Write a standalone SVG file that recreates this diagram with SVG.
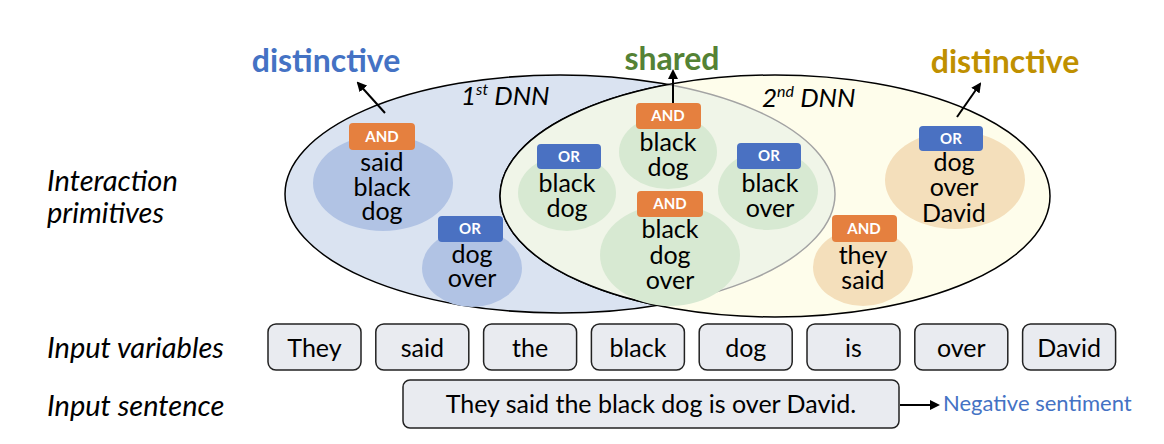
<svg xmlns="http://www.w3.org/2000/svg" width="1164" height="444" viewBox="0 0 1164 444">
<style>
text{font-family:Lato,"Open Sans","Liberation Sans",sans-serif;}
.lbl{font-size:29px;font-style:italic;fill:#000;}
.t{font-size:25px;fill:#000;text-anchor:middle;}
.tag{font-size:15px;font-weight:bold;fill:#fff;text-anchor:middle;}
.and{fill:#e5803f;}
.or{fill:#4a71c2;}
.eb{fill:#b1c3e4;}
.eg{fill:#d7e9d2;}
.et{fill:#f4dfbb;}
.box{fill:#e9ebf0;stroke:#222;stroke-width:1.5;}
.hd{font-size:32px;font-weight:bold;text-anchor:middle;}
.dnn{font-size:26px;font-style:italic;fill:#000;}
.arr{stroke:#000;stroke-width:2;fill:none;}
</style>
<defs>
<marker id="ah" markerWidth="10" markerHeight="10" refX="8" refY="5" orient="auto" markerUnits="userSpaceOnUse">
<path d="M0,0 L10,5 L0,10 Z" fill="#000"/>
</marker>
<clipPath id="cy"><ellipse cx="775" cy="196" rx="275" ry="121"/></clipPath>
<clipPath id="cb"><ellipse cx="560" cy="194" rx="276" ry="120"/></clipPath>
</defs>
<rect width="1164" height="444" fill="#fff"/>

<g id="sets">
<ellipse cx="560" cy="194" rx="275" ry="119" fill="#dae3f1" stroke="#000" stroke-width="1.5"/>
<ellipse cx="775" cy="196" rx="275" ry="121" fill="#fefdeb" stroke="#000" stroke-width="1.5"/>
<ellipse cx="560" cy="194" rx="275" ry="119" fill="#f0f5e8" stroke="#a3a3a3" stroke-width="1.5" clip-path="url(#cy)"/>
<ellipse cx="775" cy="196" rx="275" ry="121" fill="none" stroke="#000" stroke-width="1.5" clip-path="url(#cb)"/>
</g>

<g id="dnn-labels">
<text class="dnn" x="461" y="105">1<tspan font-size="16" dy="-10">st</tspan><tspan dy="10"> DNN</tspan></text>
<text class="dnn" x="762" y="107">2<tspan font-size="16" dy="-10">nd</tspan><tspan dy="10"> DNN</tspan></text>
</g>

<g id="n1">
<ellipse class="eb" cx="383" cy="183" rx="70" ry="48"/>
<rect class="and" x="349" y="123" width="66" height="27" rx="4"/>
<text class="tag" x="382" y="142">AND</text>
<text class="t" x="382" y="171">said</text>
<text class="t" x="382" y="196">black</text>
<text class="t" x="382" y="220">dog</text>
</g>
<g id="n2">
<ellipse class="eb" cx="472" cy="268" rx="50" ry="39"/>
<rect class="or" x="438" y="216" width="65" height="26" rx="4"/>
<text class="tag" x="470" y="234">OR</text>
<text class="t" x="472" y="263">dog</text>
<text class="t" x="472" y="287">over</text>
</g>
<g id="n3">
<ellipse class="eg" cx="567" cy="193" rx="49" ry="38"/>
<rect class="or" x="537" y="144" width="64" height="25" rx="4"/>
<text class="tag" x="569" y="162">OR</text>
<text class="t" x="567" y="192">black</text>
<text class="t" x="567" y="217">dog</text>
</g>
<g id="n4">
<ellipse class="eg" cx="668" cy="152" rx="49" ry="37"/>
<rect class="and" x="636" y="103" width="65" height="26" rx="4"/>
<text class="tag" x="668" y="121">AND</text>
<text class="t" x="668" y="151">black</text>
<text class="t" x="668" y="176">dog</text>
</g>
<g id="n5">
<ellipse class="eg" cx="670" cy="255" rx="70" ry="51"/>
<rect class="and" x="637" y="191" width="66" height="26" rx="4"/>
<text class="tag" x="670" y="209">AND</text>
<text class="t" x="670" y="238">black</text>
<text class="t" x="670" y="264">dog</text>
<text class="t" x="670" y="289">over</text>
</g>
<g id="n6">
<ellipse class="eg" cx="768" cy="190" rx="50" ry="40"/>
<rect class="or" x="737" y="143" width="64" height="26" rx="4"/>
<text class="tag" x="769" y="161">OR</text>
<text class="t" x="770" y="192">black</text>
<text class="t" x="770" y="217">over</text>
</g>
<g id="n7">
<ellipse class="et" cx="863" cy="267" rx="50" ry="39"/>
<rect class="and" x="832" y="215" width="65" height="27" rx="4"/>
<text class="tag" x="864" y="234">AND</text>
<text class="t" x="863" y="264">they</text>
<text class="t" x="863" y="289">said</text>
</g>
<g id="n8">
<ellipse class="et" cx="955" cy="180" rx="70" ry="49"/>
<rect class="or" x="919" y="126" width="64" height="25" rx="4"/>
<text class="tag" x="951" y="144">OR</text>
<text class="t" x="954" y="171">dog</text>
<text class="t" x="954" y="196">over</text>
<text class="t" x="954" y="222">David</text>
</g>

<g id="headers">
<text class="hd" x="326" y="72" fill="#4472c4">distinctive</text>
<text class="hd" x="672" y="70" fill="#548235">shared</text>
<text class="hd" x="1005" y="73" fill="#bf9000">distinctive</text>
</g>

<g id="row-labels">
<text class="lbl" x="47" y="191">Interaction</text>
<text class="lbl" x="47" y="223">primitives</text>
<text class="lbl" x="47" y="358">Input variables</text>
<text class="lbl" x="47" y="416">Input sentence</text>
</g>

<g id="variables">
<g id="v1"><rect class="box" x="268" y="324" width="93" height="46" rx="8"/><text class="t" x="314.5" y="357">They</text></g>
<g id="v2"><rect class="box" x="375.8" y="324" width="93" height="46" rx="8"/><text class="t" x="422.3" y="357">said</text></g>
<g id="v3"><rect class="box" x="483.6" y="324" width="93" height="46" rx="8"/><text class="t" x="530.1" y="357">the</text></g>
<g id="v4"><rect class="box" x="591.4" y="324" width="93" height="46" rx="8"/><text class="t" x="637.9" y="357">black</text></g>
<g id="v5"><rect class="box" x="699.2" y="324" width="93" height="46" rx="8"/><text class="t" x="745.7" y="357">dog</text></g>
<g id="v6"><rect class="box" x="807" y="324" width="93" height="46" rx="8"/><text class="t" x="853.5" y="357">is</text></g>
<g id="v7"><rect class="box" x="914.8" y="324" width="93" height="46" rx="8"/><text class="t" x="961.3" y="357">over</text></g>
<g id="v8"><rect class="box" x="1022.6" y="324" width="93" height="46" rx="8"/><text class="t" x="1069.1" y="357">David</text></g>
</g>

<g id="sentence">
<rect class="box" x="403" y="380" width="496" height="48" rx="7"/>
<text class="t" x="651" y="413">They said the black dog is over David.</text>
</g>
<g id="output">
<text x="943" y="411" font-size="22" fill="#4472c4">Negative sentiment</text>
</g>

<g id="connectors">
<line class="arr" x1="385" y1="113" x2="358" y2="83" marker-end="url(#ah)"/>
<line class="arr" x1="673" y1="103" x2="673" y2="71" marker-end="url(#ah)"/>
<line class="arr" x1="957" y1="117" x2="980" y2="84" marker-end="url(#ah)"/>
<line class="arr" x1="900" y1="405" x2="938" y2="405" marker-end="url(#ah)"/>
</g>
</svg>
